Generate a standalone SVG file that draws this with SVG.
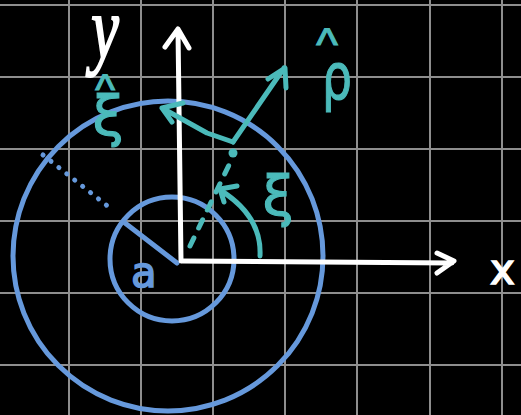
<svg xmlns="http://www.w3.org/2000/svg" width="521" height="415" viewBox="0 0 521 415">
<style>
.grid line{stroke:#8e8e8e;stroke-width:2}
.blue{fill:none;stroke:#6699dc;stroke-width:5;stroke-linecap:round;stroke-linejoin:round}
.teal{fill:none;stroke:#4bbaba;stroke-width:5;stroke-linecap:round;stroke-linejoin:round}
.white{fill:none;stroke:#ffffff;stroke-width:5;stroke-linecap:round;stroke-linejoin:round}
.tt{fill:#4bbaba;stroke:#4bbaba;stroke-width:1.2;font-family:"DejaVu Sans",sans-serif}
.hat{font-family:"Liberation Sans",sans-serif}
.tw{fill:#ffffff;stroke:#ffffff;stroke-width:1.5}
.tb{fill:#6699dc;stroke:#6699dc;stroke-width:1.5;font-family:"DejaVu Sans",sans-serif}
</style>
<rect width="521" height="415" fill="#000"/>
<g class="grid">
<line x1="69" y1="0" x2="69" y2="415"/><line x1="141" y1="0" x2="141" y2="415"/><line x1="213" y1="0" x2="213" y2="415"/><line x1="285" y1="0" x2="285" y2="415"/><line x1="357" y1="0" x2="357" y2="415"/><line x1="430" y1="0" x2="430" y2="415"/><line x1="502" y1="0" x2="502" y2="415"/>
<line x1="0" y1="5" x2="521" y2="5"/><line x1="0" y1="77" x2="521" y2="77"/><line x1="0" y1="149" x2="521" y2="149"/><line x1="0" y1="221" x2="521" y2="221"/><line x1="0" y1="293" x2="521" y2="293"/><line x1="0" y1="365" x2="521" y2="365"/>
</g>
<g id="outer-circle"><circle class="blue" cx="168" cy="256" r="155"/></g>
<g id="inner-circle"><circle class="blue" cx="172" cy="259" r="62"/></g>
<g id="radius-a">
<line class="blue" x1="177" y1="263" x2="125" y2="223"/>
<text class="tb" x="131" y="287" font-size="42">a</text>
</g>
<g id="outer-radius"><line class="blue" x1="43" y1="155" x2="110" y2="208" stroke-dasharray="0.1 10"/></g>
<g id="axes">
<path class="white" d="M181 261 L178 30 M165 47 L178 29 L189 48"/>
<path class="white" d="M182 261 L452 263 M437 253 L454 261 L437 273"/>
<text class="tw" transform="translate(490,284)" font-family="DejaVu Sans, sans-serif" font-size="42">x</text>
<text class="tw" transform="translate(105,58) scale(1,1.42)" text-anchor="middle" font-family="Liberation Serif, serif" font-style="italic" font-size="62">y</text>
</g>
<g id="connectors">
<path class="teal" d="M233 142 L284 68 M268 79 L285 68 L286 88"/>
<path class="teal" d="M233 142 L207 133 L162 108 M183 103 L162 108 L172 122"/>
<circle cx="233" cy="153" r="4.5" fill="#4bbaba"/>
<path class="teal" d="M190 246 L229 165" stroke-dasharray="9 11"/>
<path class="teal" d="M260 256 Q262 216 220 190 M237 186 L220 189 L224 202"/>
</g>
<g id="labels">
<text class="tt"><tspan x="322" y="99" font-size="64" textLength="30" lengthAdjust="spacingAndGlyphs">ρ</tspan><tspan class="hat" x="327" y="60" text-anchor="middle" font-size="46">^</tspan></text>
<text class="tt" x="278" y="215" text-anchor="middle" font-size="56">ξ</text>
<text class="tt"><tspan x="108" y="135" text-anchor="middle" font-size="56">ξ</tspan><tspan class="hat" x="105" y="104" text-anchor="middle" font-size="42">^</tspan></text>
</g>
</svg>
